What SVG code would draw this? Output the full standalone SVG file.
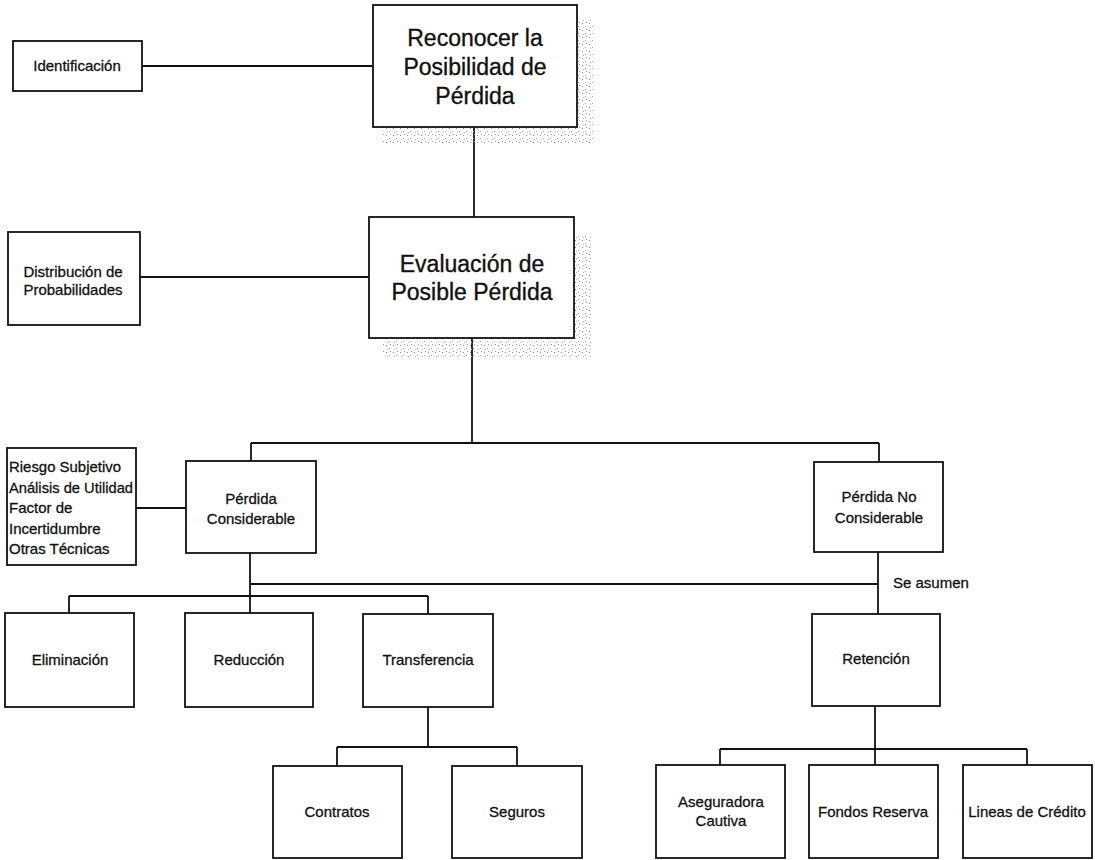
<svg xmlns="http://www.w3.org/2000/svg" width="1095" height="860" viewBox="0 0 1095 860">
<style>
.bg{fill:#ffffff}
.box{fill:#ffffff;stroke:#111;stroke-width:1.8}
.con{fill:none;stroke:#111;stroke-width:1.8}
.big{font-family:"Liberation Sans",Arial,sans-serif;font-size:23px;fill:#111;stroke:#111;stroke-width:0.35;text-anchor:middle}
.sm{font-family:"Liberation Sans",Arial,sans-serif;font-size:15px;fill:#111;stroke:#111;stroke-width:0.3;text-anchor:middle}
.lt{font-family:"Liberation Sans",Arial,sans-serif;font-size:15px;fill:#111;stroke:#111;stroke-width:0.3;text-anchor:start}
.shadow{fill:url(#stip)}
</style>
<defs>
<pattern id="stip" width="7" height="7" patternUnits="userSpaceOnUse">
<rect x="1" y="2" width="1" height="1" fill="#8a8a8a"/>
<rect x="4" y="5" width="1" height="1" fill="#a5a5a5"/>
<rect x="5" y="1" width="1" height="1" fill="#999"/>
<rect x="2" y="6" width="1" height="1" fill="#b5b5b5"/>
</pattern>
</defs>
<rect class="bg" x="0" y="0" width="1095" height="860"/>

<g id="connectors">
<path class="con" d="M142 66 H373"/>
<path class="con" d="M140 277 H369"/>
<path class="con" d="M474 127 V217"/>
<path class="con" d="M472 338 V443"/>
<path class="con" d="M251 443 H879"/>
<path class="con" d="M251 443 V461"/>
<path class="con" d="M879 443 V462"/>
<path class="con" d="M136 508 H186"/>
<path class="con" d="M250 553 V613"/>
<path class="con" d="M69 596 H428"/>
<path class="con" d="M69 596 V613"/>
<path class="con" d="M428 596 V614"/>
<path class="con" d="M251 584 H878"/>
<path class="con" d="M878 552 V614"/>
<path class="con" d="M428 707 V747"/>
<path class="con" d="M337 747 H517"/>
<path class="con" d="M337 747 V766"/>
<path class="con" d="M517 747 V766"/>
<path class="con" d="M875 706 V749"/>
<path class="con" d="M720 749 H1027"/>
<path class="con" d="M720 749 V765"/>
<path class="con" d="M875 749 V765"/>
<path class="con" d="M1027 749 V765"/>
<text class="lt" x="893" y="588">Se asumen</text>
</g>

<g id="identificacion">
<rect class="box" x="13" y="41" width="129" height="50"/>
<text class="sm" x="77" y="71">Identificación</text>
</g>

<g id="reconocer">
<rect class="shadow" x="383" y="20" width="210" height="123"/>
<rect class="box" x="373" y="5" width="204" height="122"/>
<text class="big" x="475" y="46">Reconocer la</text>
<text class="big" x="475" y="75">Posibilidad de</text>
<text class="big" x="475" y="104">Pérdida</text>
</g>

<g id="distribucion">
<rect class="box" x="8" y="232" width="132" height="93"/>
<text class="sm" x="73" y="277">Distribución de</text>
<text class="sm" x="73" y="295">Probabilidades</text>
</g>

<g id="evaluacion">
<rect class="shadow" x="383" y="235" width="208" height="123"/>
<rect class="box" x="369" y="217" width="205" height="121"/>
<text class="big" x="472" y="272">Evaluación de</text>
<text class="big" x="472" y="300">Posible Pérdida</text>
</g>

<g id="riesgo">
<rect class="box" x="7" y="448" width="129" height="117"/>
<text class="lt" x="9" y="472" textLength="112" lengthAdjust="spacingAndGlyphs">Riesgo Subjetivo</text>
<text class="lt" x="9" y="493" textLength="124" lengthAdjust="spacingAndGlyphs">Análisis de Utilidad</text>
<text class="lt" x="9" y="513">Factor de</text>
<text class="lt" x="9" y="534">Incertidumbre</text>
<text class="lt" x="9" y="554">Otras Técnicas</text>
</g>

<g id="perdida-considerable">
<rect class="box" x="186" y="461" width="130" height="92"/>
<text class="sm" x="251" y="504">Pérdida</text>
<text class="sm" x="251" y="524">Considerable</text>
</g>

<g id="perdida-no-considerable">
<rect class="box" x="814" y="462" width="129" height="90"/>
<text class="sm" x="879" y="502">Pérdida No</text>
<text class="sm" x="879" y="523">Considerable</text>
</g>

<g id="eliminacion">
<rect class="box" x="5" y="613" width="129" height="94"/>
<text class="sm" x="70" y="665">Eliminación</text>
</g>

<g id="reduccion">
<rect class="box" x="185" y="613" width="128" height="94"/>
<text class="sm" x="249" y="665">Reducción</text>
</g>

<g id="transferencia">
<rect class="box" x="363" y="614" width="130" height="93"/>
<text class="sm" x="428" y="665">Transferencia</text>
</g>

<g id="retencion">
<rect class="box" x="812" y="614" width="128" height="92"/>
<text class="sm" x="876" y="664">Retención</text>
</g>

<g id="contratos">
<rect class="box" x="273" y="766" width="129" height="92"/>
<text class="sm" x="337" y="817">Contratos</text>
</g>

<g id="seguros">
<rect class="box" x="452" y="766" width="130" height="92"/>
<text class="sm" x="517" y="817">Seguros</text>
</g>

<g id="aseguradora">
<rect class="box" x="656" y="765" width="129" height="93"/>
<text class="sm" x="721" y="807">Aseguradora</text>
<text class="sm" x="721" y="826">Cautiva</text>
</g>

<g id="fondos">
<rect class="box" x="809" y="765" width="129" height="93"/>
<text class="sm" x="873" y="817">Fondos Reserva</text>
</g>

<g id="lineas">
<rect class="box" x="963" y="765" width="129" height="93"/>
<text class="sm" x="1027" y="817">Lineas de Crédito</text>
</g>
</svg>
